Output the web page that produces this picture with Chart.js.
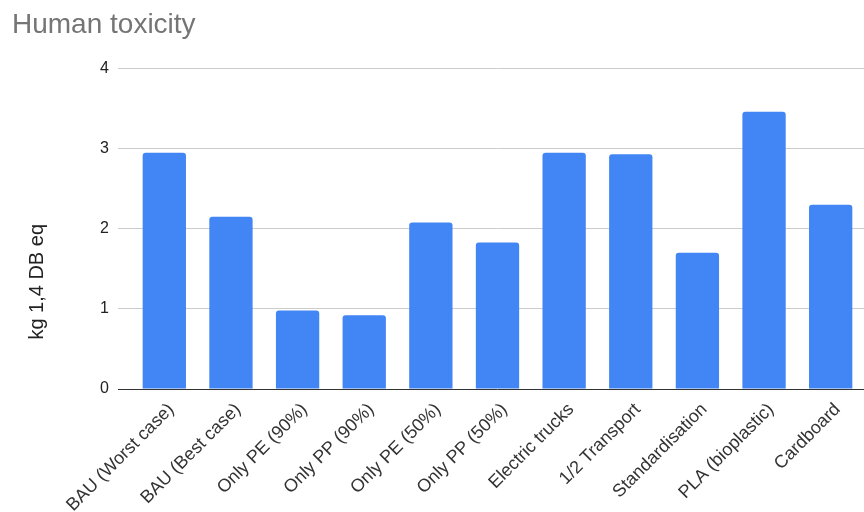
<!DOCTYPE html>
<html>
<head>
<meta charset="utf-8">
<script src="https://cdn.jsdelivr.net/npm/chart.js@4/dist/chart.umd.min.js"></script>
<style>
  body { margin: 0; background: #fff; }
  canvas { display: block; }
</style>
</head>
<body>
<canvas id="toxicity-chart" width="864" height="512"></canvas>
<script>
const categories = ['BAU (Worst case)', 'BAU (Best case)', 'Only PE (90%)', 'Only PP (90%)', 'Only PE (50%)',
    'Only PP (50%)', 'Electric trucks', '1/2 Transport', 'Standardisation', 'PLA (bioplastic)', 'Cardboard'];
const toxicity = [2.95, 2.15, 0.98, 0.92, 2.08, 1.83, 2.95, 2.93, 1.70, 3.46, 2.30];
const yTicks = [0, 1, 2, 3, 4];
const yTitle = 'kg 1,4 DB eq';

const fontFamily = '"Liberation Sans", Arial, sans-serif';

// rotated axis title, sits a bit lower than chart-area centre
const yTitlePlugin = {
    id: 'yTitle',
    afterDraw(chart) {
        const c = chart.ctx;
        const area = chart.chartArea;
        c.save();
        c.translate(area.left - 94, (area.top + area.bottom) / 2 + 53);
        c.rotate(-Math.PI / 2);
        c.font = '20px ' + fontFamily;
        c.fillStyle = '#222';
        c.textAlign = 'center';
        c.textBaseline = 'middle';
        c.fillText(yTitle, 0, 0);
        c.restore();
    }
};

const ctx = document.getElementById('toxicity-chart').getContext('2d');
const myChart = new Chart(ctx, {
    type: 'bar',
    data: {
        labels: categories,
        datasets: [{
            label: 'Human toxicity',
            data: toxicity,
            backgroundColor: '#4285F4',
            borderRadius: 3,
            borderSkipped: 'bottom',
            categoryPercentage: 1,
            barPercentage: 0.65
        }]
    },
    options: {
        responsive: false,
        animation: false,
        layout: { padding: { left: 12, right: 0, top: 0, bottom: 0 } },
        plugins: {
            legend: { display: false },
            tooltip: { enabled: false },
            title: {
                display: true,
                text: 'Human toxicity',
                align: 'start',
                color: '#757575',
                font: { family: fontFamily, size: 28, weight: 'normal' },
                padding: { top: 8, bottom: 27 }
            }
        },
        scales: {
            x: {
                border: { display: false },
                grid: { display: false, drawTicks: false },
                ticks: {
                    autoSkip: false,
                    minRotation: 45,
                    maxRotation: 45,
                    padding: 10,
                    labelOffset: 7,
                    color: '#333',
                    font: { family: fontFamily, size: 18 }
                },
                afterFit(scale) { scale.height = 123; }
            },
            y: {
                min: yTicks[0],
                max: yTicks[yTicks.length - 1],
                border: { display: false },
                grid: {
                    color: (c) => c.tick && c.tick.value === 0 ? '#333' : '#ccc',
                    tickColor: (c) => c.tick && c.tick.value === 0 ? '#333' : '#ccc',
                    tickLength: 13
                },
                ticks: {
                    stepSize: 1,
                    padding: 9,
                    color: '#222',
                    font: { family: fontFamily, size: 16 }
                },
                afterBuildTicks(scale) { scale.ticks = yTicks.map(v => ({ value: v })); },
                afterFit(scale) { scale.width = 119; }
            }
        }
    },
    plugins: [yTitlePlugin]
});
</script>
</body>
</html>
